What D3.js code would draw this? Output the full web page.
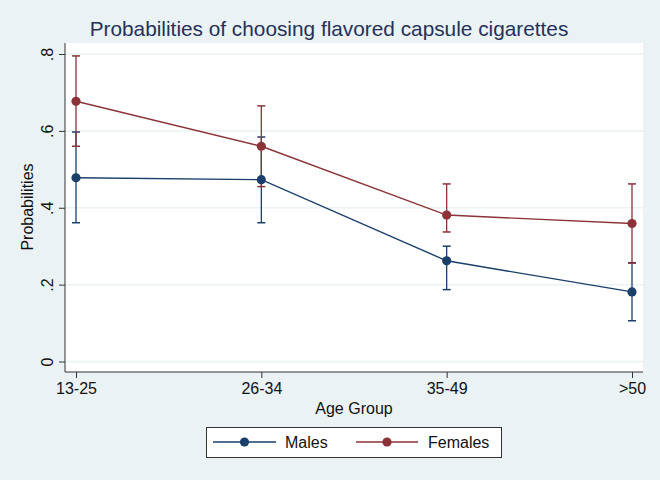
<!DOCTYPE html>
<html><head><meta charset="utf-8">
<script src="https://cdn.jsdelivr.net/npm/d3@7"></script>
<style>body{margin:0;background:#eaf2f3}svg{display:block;font-family:"Liberation Sans",Arial,sans-serif}</style>
</head><body><svg id="c" width="660" height="480"></svg>
<script>
const categories = ["13-25","26-34","35-49",">50"];
const males = [0.478, 0.473, 0.262, 0.181];
const malesLo = [0.361, 0.361, 0.187, 0.106];
const malesHi = [0.597, 0.584, 0.300, 0.257];
const females = [0.677, 0.560, 0.381, 0.359];
const femalesLo = [0.560, 0.455, 0.337, 0.256];
const femalesHi = [0.795, 0.665, 0.462, 0.462];
const yTicks = [0, 0.2, 0.4, 0.6, 0.8];
const yTickLabels = ["0", ".2", ".4", ".6", ".8"];
const seriesNames = ["Males", "Females"];
const colors = ["#1a3f6b", "#8b3339"];

const svg = d3.select("#c");
svg.append("rect").attr("width",660).attr("height",480).attr("fill","#eaf2f3");

const plot = {l:65, r:643, t:43, b:372};
const x = d3.scalePoint().domain(categories).range([76, 632]);
const y = d3.scaleLinear().domain([0, 0.8]).range([361.5, 54]);

svg.append("rect").attr("x",plot.l).attr("y",plot.t).attr("width",plot.r-plot.l).attr("height",plot.b-plot.t).attr("fill","#fff");

// gridlines
svg.append("g").selectAll("line").data(yTicks).join("line")
  .attr("x1",plot.l).attr("x2",plot.r).attr("y1",d=>y(d)).attr("y2",d=>y(d))
  .attr("stroke","#eaf2f3").attr("stroke-width",1.5);

// axes
const yAxis = d3.axisLeft(y).tickValues(yTicks).tickFormat((d,i)=>yTickLabels[i]).tickSize(6).tickPadding(4);
const gy = svg.append("g").attr("transform",`translate(${plot.l},0)`).call(yAxis);
gy.select(".domain").remove();
gy.append("line").attr("x1",0).attr("x2",0).attr("y1",plot.t).attr("y2",plot.b).attr("stroke","#333");
gy.selectAll(".tick line").attr("stroke","#333");
gy.selectAll(".tick text").attr("font-size",16).attr("fill","#111").attr("font-family",null)
  .attr("x",-12).attr("y",0).attr("dy",0).attr("text-anchor","middle")
  .attr("transform","rotate(-90,-12,0)");

const xAxis = d3.axisBottom(x).tickSize(6).tickPadding(4);
const gx = svg.append("g").attr("transform",`translate(0,${plot.b})`).call(xAxis);
gx.select(".domain").remove();
gx.append("line").attr("x1",plot.l).attr("x2",plot.r).attr("y1",0).attr("y2",0).attr("stroke","#333");
gx.selectAll(".tick line").attr("stroke","#333");
gx.selectAll(".tick text").attr("font-size",16).attr("fill","#111").attr("font-family",null).attr("dy","0.71em").attr("y",11);

// series
const series = [
  {name:seriesNames[0], v:males, lo:malesLo, hi:malesHi, c:colors[0]},
  {name:seriesNames[1], v:females, lo:femalesLo, hi:femalesHi, c:colors[1]}
];
series.forEach(s=>{
  const g = svg.append("g");
  categories.forEach((cat,i)=>{
    const cx = x(cat);
    g.append("line").attr("x1",cx).attr("x2",cx).attr("y1",y(s.lo[i])).attr("y2",y(s.hi[i])).attr("stroke",s.c).attr("stroke-width",1.3);
    [s.lo[i], s.hi[i]].forEach(v=>{
      g.append("line").attr("x1",cx-4).attr("x2",cx+4).attr("y1",y(v)).attr("y2",y(v)).attr("stroke",s.c).attr("stroke-width",1.5);
    });
  });
});
series.forEach(s=>{
  const line = d3.line().x((d,i)=>x(categories[i])).y(d=>y(d));
  svg.append("path").datum(s.v).attr("d",line).attr("fill","none").attr("stroke",s.c).attr("stroke-width",1.4);
  svg.append("g").selectAll("circle").data(s.v).join("circle")
    .attr("cx",(d,i)=>x(categories[i])).attr("cy",d=>y(d)).attr("r",4.6).attr("fill",s.c);
});

// title
svg.append("text").attr("x",329).attr("y",36).attr("text-anchor","middle").attr("font-size",20.8).attr("fill","#24315a")
  .text("Probabilities of choosing flavored capsule cigarettes");
// axis titles
svg.append("text").attr("x",354).attr("y",414).attr("text-anchor","middle").attr("font-size",16).attr("fill","#111").text("Age Group");
svg.append("text").attr("transform","translate(33,207) rotate(-90)").attr("text-anchor","middle").attr("font-size",16).attr("fill","#111").text("Probabilities");

// legend
const lg = svg.append("g");
lg.append("rect").attr("x",206.5).attr("y",427.5).attr("width",295).attr("height",30).attr("fill","#fff").attr("stroke","#333").attr("stroke-width",1);
const legItems = [{x0:213,x1:276,tx:285},{x0:356,x1:418,tx:428}];
series.forEach((s,i)=>{
  const it = legItems[i];
  lg.append("line").attr("x1",it.x0).attr("x2",it.x1).attr("y1",442).attr("y2",442).attr("stroke",s.c).attr("stroke-width",1.4);
  lg.append("circle").attr("cx",(it.x0+it.x1)/2).attr("cy",442).attr("r",4.6).attr("fill",s.c);
  lg.append("text").attr("x",it.tx).attr("y",448).attr("font-size",16).attr("fill","#111").text(s.name);
});
</script></body></html>
